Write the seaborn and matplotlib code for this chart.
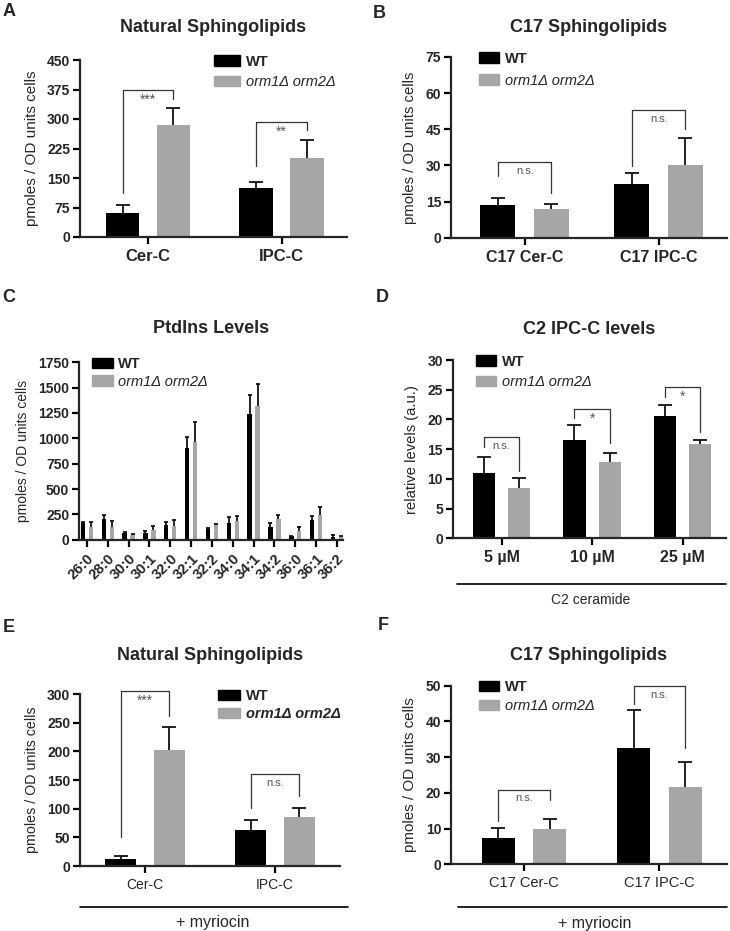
import numpy as np
import pandas as pd
import matplotlib
matplotlib.use("Agg")
import matplotlib.pyplot as plt
from matplotlib.patches import Patch
import seaborn as sns

# ---- data (mean, upward SD) ----
A_cats = ['Cer-C', 'IPC-C']
A_wt = [61, 125]
A_wt_sd = [21, 16]
A_mut = [286, 202]
A_mut_sd = [43, 44]
A_sig = [(375, 113, 350, '***'), (293, 181, 272, '**')]

B_cats = ['C17 Cer-C', 'C17 IPC-C']
B_wt = [13.5, 22.1]
B_wt_sd = [3.1, 4.9]
B_mut = [12.0, 30.1]
B_mut_sd = [1.8, 11.2]
B_sig = [(31.4, 25.5, 18.6, 'n.s.'), (52.9, 29.7, 45.0, 'n.s.')]

C_cats = ['26:0', '28:0', '30:0', '30:1', '32:0', '32:1', '32:2',
          '34:0', '34:1', '34:2', '36:0', '36:1', '36:2']
C_wt = [166, 202, 67, 67, 143, 900, 104, 169, 1240, 127, 38, 192, 22]
C_wt_sd = [5, 46, 10, 20, 33, 115, 16, 50, 190, 33, 0, 46, 22]
C_mut = [123, 130, 44, 94, 136, 960, 143, 186, 1320, 206, 90, 248, 28]
C_mut_sd = [49, 52, 17, 46, 60, 200, 13, 52, 220, 42, 33, 76, 4]

D_cats = ['5 µM', '10 µM', '25 µM']
D_wt = [11.0, 16.6, 20.6]
D_wt_sd = [2.6, 2.4, 1.8]
D_mut = [8.4, 12.8, 15.8]
D_mut_sd = [1.8, 1.6, 0.8]
D_sig = [(17.0, 15.3, 11.4, 'n.s.'), (21.8, 20.2, 16.0, '*'), (25.5, 23.8, 17.9, '*')]

E_cats = ['Cer-C', 'IPC-C']
E_wt = [12.8, 63.4]
E_wt_sd = [5.2, 16.3]
E_mut = [201.7, 84.9]
E_mut_sd = [40.2, 16.8]
E_sig = [(306, 51, 262, '***'), (160, 100.6, 122, 'n.s.')]

F_cats = ['C17 Cer-C', 'C17 IPC-C']
F_wt = [7.5, 32.6]
F_wt_sd = [2.6, 10.6]
F_mut = [9.9, 21.7]
F_mut_sd = [2.8, 6.8]
F_sig = [(20.8, 12.2, 18.0, 'n.s.'), (49.9, 45.0, 32.5, 'n.s.')]

GENOS = ['WT', 'orm1Δ orm2Δ']
BLACK = '#000000'
GRAY = '#a6a6a6'

sns.set_style('ticks')
plt.rcParams['font.family'] = ['Liberation Sans', 'DejaVu Sans']
plt.rcParams['axes.linewidth'] = 1.6

W, H = 730, 931
fig = plt.figure(figsize=(W / 100, H / 100), dpi=100)


def add_ax(left, right, top, bottom):
    # pixel box -> figure fraction
    return fig.add_axes([left / W, 1 - bottom / H, (right - left) / W, (bottom - top) / H])


def draw_panel(ax, cats, wt, wt_sd, mut, mut_sd, ymax, ystep, xlim,
               width=0.77, gap=0.36, capsize=5, xfont=12, xbold=True):
    n = len(cats)
    df = pd.DataFrame({'cat': cats * 2,
                       'geno': [GENOS[0]] * n + [GENOS[1]] * n,
                       'val': wt + mut})
    sns.barplot(data=df, x='cat', y='val', hue='geno', order=cats, hue_order=GENOS,
                palette=[BLACK, GRAY], saturation=1, width=width, gap=gap,
                errorbar=None, legend=False, linewidth=0, ax=ax)
    bars = sorted(ax.patches, key=lambda p: p.get_x() + p.get_width() / 2)
    errs = [e for pair in zip(wt_sd, mut_sd) for e in pair]
    for b, e in zip(bars, errs):
        xc = b.get_x() + b.get_width() / 2
        h = b.get_height()
        # one-sided (upward) error bar, no cap at the bar top
        _, caps, _ = ax.errorbar([xc], [h], yerr=[[0], [e]], fmt='none', ecolor='#111111',
                                 elinewidth=1.3, capsize=capsize, capthick=1.3, zorder=3)
        caps[0].set_visible(False)
    ax.set_ylim(0, ymax)
    ax.set_yticks(np.arange(0, ymax + ystep / 2, ystep))
    ax.set_xlim(*xlim)
    ax.set_xlabel('')
    sns.despine(ax=ax)
    ax.tick_params(axis='both', direction='out', length=5, width=1.6, color='black')
    ax.tick_params(axis='y', pad=2)
    for t in ax.get_yticklabels():
        t.set_fontweight('bold')
        t.set_fontsize(10)
    for t in ax.get_xticklabels():
        t.set_fontsize(xfont)
        t.set_fontweight('bold' if xbold else 'normal')
    return bars


def add_brackets(ax, bars, sigs, fs_star=10, fs_ns=8):
    for i, (top, yl, yr, lab) in enumerate(sigs):
        b1, b2 = bars[2 * i], bars[2 * i + 1]
        x1 = b1.get_x() + b1.get_width() / 2
        x2 = b2.get_x() + b2.get_width() / 2
        ax.plot([x1, x1, x2, x2], [yl, top, top, yr], color='#333333', lw=0.9,
                clip_on=False, zorder=4)
        fs = fs_ns if lab == 'n.s.' else fs_star
        ax.annotate(lab, xy=((x1 + x2) / 2, top), xytext=(0, -2.5),
                    textcoords='offset points', ha='center', va='top',
                    fontsize=fs, color='#555555', annotation_clip=False)


def add_legend(ax, x, y, hlen=1.4, spacing=0.45, bold_mut=False):
    handles = [Patch(color=BLACK), Patch(color=GRAY)]
    leg = ax.legend(handles, GENOS, loc='upper left', bbox_to_anchor=(x, y),
                    frameon=False, fontsize=10.5, handlelength=hlen, handleheight=0.7,
                    handletextpad=0.4, labelspacing=spacing, borderpad=0, borderaxespad=0)
    leg.get_texts()[0].set_fontweight('bold')
    leg.get_texts()[1].set_style('italic')
    if bold_mut:
        leg.get_texts()[1].set_fontweight('bold')


def add_ylabel(ax, text, size):
    ax.set_ylabel(text, fontsize=size, labelpad=6)


def title(ax, text, ypx):
    bb = ax.get_position()
    fig.text(bb.x0 + bb.width / 2, 1 - ypx / H, text, ha='center', va='center',
             fontsize=13, fontweight='bold')


def group_line(ax, x0, x1, y, label, ty, tx, fs):
    ax.plot([x0, x1], [y, y], transform=ax.transAxes, color='black', lw=1.2, clip_on=False)
    ax.text(tx, ty, label, transform=ax.transAxes, ha='center', va='center', fontsize=fs)


# ---- A ----
axA = add_ax(80, 347, 60, 237)
bars = draw_panel(axA, A_cats, A_wt, A_wt_sd, A_mut, A_mut_sd, 450, 75, (-0.51, 1.49), width=0.76, gap=0.34)
add_brackets(axA, bars, A_sig)
add_legend(axA, 0.5, 1.03, hlen=1.85, spacing=0.45)
add_ylabel(axA, 'pmoles / OD units cells', 11)
title(axA, 'Natural Sphingolipids', 28)

# ---- B ----
axB = add_ax(451, 727, 57, 237.7)
bars = draw_panel(axB, B_cats, B_wt, B_wt_sd, B_mut, B_mut_sd, 75, 15, (-0.55, 1.51), width=0.8, gap=0.35, xfont=11.5)
add_brackets(axB, bars, B_sig)
add_legend(axB, 0.1, 1.03, spacing=0.55)
add_ylabel(axB, 'pmoles / OD units cells', 10.7)
title(axB, 'C17 Sphingolipids', 28)

# ---- C ----
axC = add_ax(79, 343, 362.3, 539.7)
draw_panel(axC, C_cats, C_wt, C_wt_sd, C_mut, C_mut_sd, 1750, 250, (-0.38, 12.29),
           width=0.76, gap=0.45, capsize=1.6, xfont=10.5)
for t in axC.get_xticklabels():
    t.set_rotation(45)
    t.set_ha('right')
    t.set_rotation_mode('anchor')
add_legend(axC, 0.05, 1.03, spacing=0.25)
add_ylabel(axC, 'pmoles / OD units cells', 10)
title(axC, 'PtdIns Levels', 329)

# ---- D ----
axD = add_ax(452.7, 726, 360, 538.3)
bars = draw_panel(axD, D_cats, D_wt, D_wt_sd, D_mut, D_mut_sd, 30, 5, (-0.54, 2.48), width=0.78, gap=0.37, xfont=11.5)
add_brackets(axD, bars, D_sig)
add_legend(axD, 0.085, 1.03, spacing=0.45)
add_ylabel(axD, 'relative levels (a.u.)', 10.6)
title(axD, 'C2 IPC-C levels', 330)
group_line(axD, 0.016, 1.0, -0.256, 'C2 ceramide', -0.346, 0.505, 10)

# ---- E ----
axE = add_ax(80, 340, 694, 866)
bars = draw_panel(axE, E_cats, E_wt, E_wt_sd, E_mut, E_mut_sd, 300, 50, (-0.5, 1.5), width=0.75, gap=0.36,
                  xfont=10, xbold=False)
add_brackets(axE, bars, E_sig)
add_legend(axE, 0.53, 1.03, hlen=1.55, spacing=0.3, bold_mut=True)
add_ylabel(axE, 'pmoles / OD units cells', 10.3)
title(axE, 'Natural Sphingolipids', 655)
group_line(axE, 0.0, 1.03, -0.238, '+ myriocin', -0.326, 0.51, 11.5)

# ---- F ----
axF = add_ax(451, 727, 685.7, 864.3)
bars = draw_panel(axF, F_cats, F_wt, F_wt_sd, F_mut, F_mut_sd, 50, 10, (-0.54, 1.5), width=0.76, gap=0.36,
                  xfont=10.5, xbold=False)
add_brackets(axF, bars, F_sig)
add_legend(axF, 0.1, 1.03, spacing=0.3)
add_ylabel(axF, 'pmoles / OD units cells', 10.9)
title(axF, 'C17 Sphingolipids', 655)
group_line(axF, 0.025, 1.0, -0.24, '+ myriocin', -0.33, 0.52, 11.5)

# panel letters
for lab, xp, yp in [('A', 9, 12), ('B', 379, 13), ('C', 9, 298), ('D', 382, 297), ('E', 9, 628), ('F', 383, 625)]:
    fig.text(xp / W, 1 - yp / H, lab, ha='center', va='center', fontsize=13, fontweight='bold')

fig.savefig('out.png', dpi=100)
